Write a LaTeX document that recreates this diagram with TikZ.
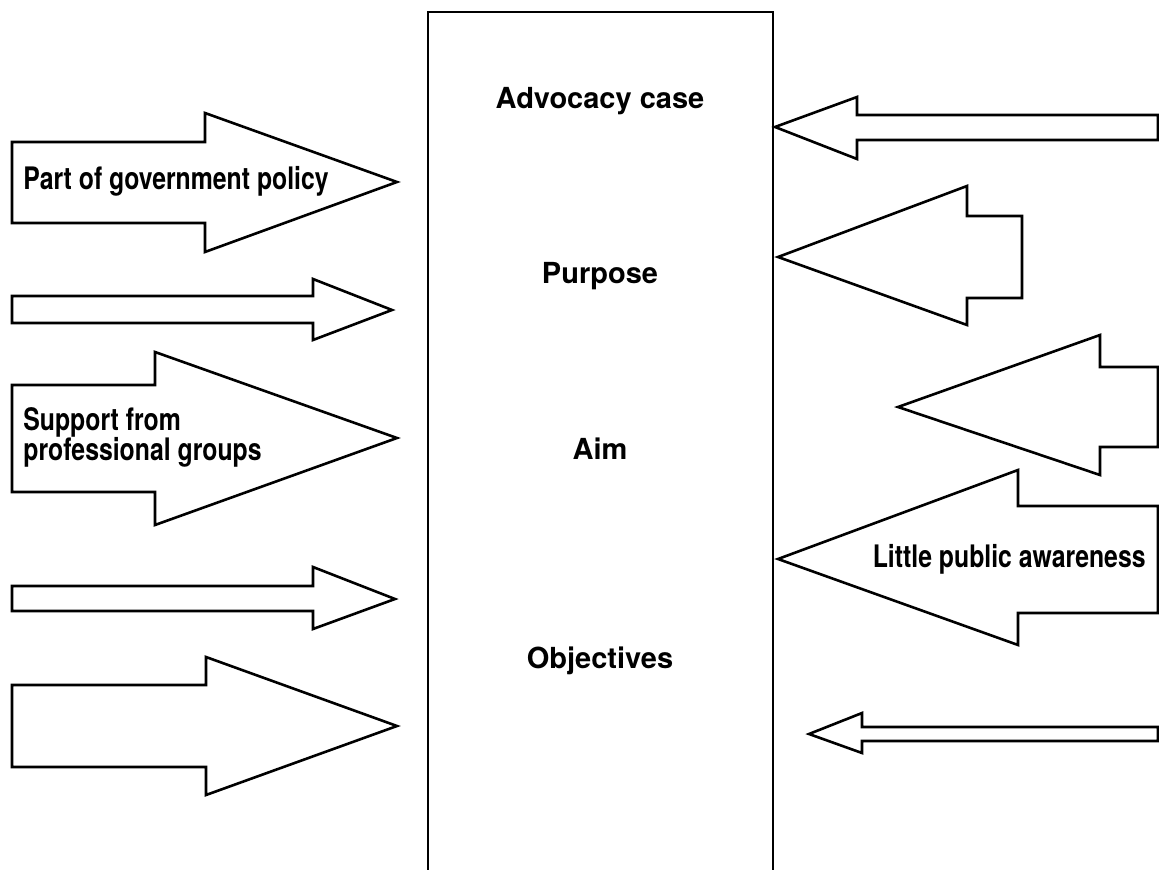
\documentclass[tikz,border=0pt]{standalone}
\usepackage{fontspec}
\newfontfamily\headfont{TeX Gyre Heros}
\newfontfamily\narrowfont[FakeStretch=0.8]{TeX Gyre Heros}
\tikzset{
  blockarrow/.style={draw=black, line width=1.3pt, fill=white, line join=miter},
  boxlabel/.style={font=\headfont\bfseries\fontsize{14.5}{14.5}\selectfont, inner sep=0pt},
  arrowlabel/.style={font=\narrowfont\bfseries\fontsize{15.5}{15}\selectfont, inner sep=0pt, align=left}
}
\begin{document}
\begin{tikzpicture}[x=0.5pt, y=-0.5pt]
    \useasboundingbox (0,0) rectangle (1159,870);
    \clip (0,0) rectangle (1159,870);

    % central column
    \draw[line width=1.3pt] (428,880) -- (428,12) -- (773,12) -- (773,880);
    \node[boxlabel, anchor=base] (advocacy)   at (600,109) {Advocacy case};
    \node[boxlabel, anchor=base] (purpose)    at (600,284) {Purpose};
    \node[boxlabel, anchor=base] (aim)        at (600,459) {Aim};
    \node[boxlabel, anchor=base] (objectives) at (600,668) {Objectives};

    % arrows from the left
    \draw[blockarrow] (12,142) -- (205,142) -- (205,113) -- (397,182) -- (205,252) -- (205,223) -- (12,223) -- cycle;
    \draw[blockarrow] (12,296) -- (313,296) -- (313,279) -- (392,310) -- (313,340) -- (313,323) -- (12,323) -- cycle;
    \draw[blockarrow] (12,385) -- (155,385) -- (155,352) -- (397,438) -- (155,525) -- (155,492) -- (12,492) -- cycle;
    \draw[blockarrow] (12,586) -- (313,586) -- (313,567) -- (395,599) -- (313,629) -- (313,611) -- (12,611) -- cycle;
    \draw[blockarrow] (12,685) -- (206,685) -- (206,657) -- (397,726) -- (206,795) -- (206,767) -- (12,767) -- cycle;
    \node[arrowlabel, anchor=base west] (policy)  at (23,190) {Part of government policy};
    \node[arrowlabel, anchor=base west] (support) at (23,460) {Support from\\professional groups};

    % arrows from the right
    \draw[blockarrow] (1158,115) -- (857,115) -- (857,97) -- (775,127) -- (857,159) -- (857,140) -- (1158,140) -- cycle;
    \draw[blockarrow] (1022,216) -- (967,216) -- (967,186) -- (778,257) -- (967,325) -- (967,298) -- (1022,298) -- cycle;
    \draw[blockarrow] (1158,367) -- (1100,367) -- (1100,335) -- (898,407) -- (1100,475) -- (1100,447) -- (1158,447) -- cycle;
    \draw[blockarrow] (1158,506) -- (1018,506) -- (1018,470) -- (778,559) -- (1018,645) -- (1018,613) -- (1158,613) -- cycle;
    \draw[blockarrow] (1158,727) -- (862,727) -- (862,713) -- (809,734) -- (862,753) -- (862,741) -- (1158,741) -- cycle;
    \node[arrowlabel, anchor=base east] (awareness) at (1146,567) {Little public awareness};
\end{tikzpicture}
\end{document}
